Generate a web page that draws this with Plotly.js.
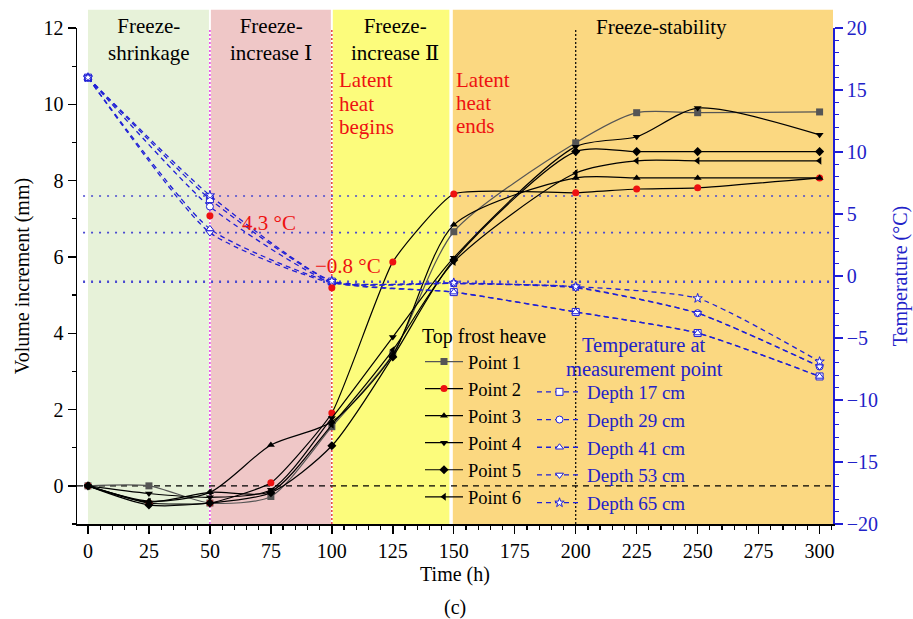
<!DOCTYPE html>
<html>
<head>
<meta charset="utf-8">
<script src="https://cdn.plot.ly/plotly-3.0.1.min.js"></script>
<style>html,body{margin:0;padding:0;background:#fff}#chart{width:913px;height:619px}</style>
</head>
<body>
<div id="chart"></div>
<script>
// ---- data ----
const hours = [0, 25, 50, 75, 100, 125, 150, 200, 225, 250, 300];
const point1 = [0, 0.0, -0.45, -0.28, 1.55, 3.45, 6.66, 8.99, 9.78, 9.78, 9.80];
const point2 = [0, -0.45, -0.45, 0.08, 1.91, 5.87, 7.65, 7.68, 7.78, 7.81, 8.07];
const point3 = [0, -0.40, -0.17, 1.07, 1.68, 3.43, 6.84, 8.07, 8.07, 8.07, 8.07];
const point4 = [0, -0.20, -0.30, -0.10, 1.78, 3.90, 5.98, 8.89, 9.15, 9.90, 9.20];
const point5 = [0, -0.50, -0.45, -0.18, 1.05, 3.38, 5.92, 8.76, 8.76, 8.76, 8.76];
const point6 = [0, -0.42, -0.17, -0.15, 1.60, 3.56, 5.87, 8.20, 8.52, 8.52, 8.52];

const tempHours = [0, 50, 100, 150, 200, 250, 300];
const depth17 = [16.0, 6.2, -0.45, -1.3, -2.9, -4.6, -8.1];
const depth29 = [16.0, 5.6, -0.50, -0.6, -0.9, -3.0, -7.3];
const depth41 = [16.0, 3.8, -0.50, -1.3, -2.9, -4.6, -8.1];
const depth53 = [16.0, 3.5, -0.55, -0.6, -0.95, -3.0, -7.3];
const depth65 = [16.0, 6.5, -0.40, -0.55, -0.85, -1.8, -6.9];

const markHours = [50, 100];
const markTemps = [4.86, -0.95];
const refTemps = [6.45, 3.5, -0.46];

const pointNames = ['Point 1', 'Point 2', 'Point 3', 'Point 4', 'Point 5', 'Point 6'];
const depthNames = ['Depth 17 cm', 'Depth 29 cm', 'Depth 41 cm', 'Depth 53 cm', 'Depth 65 cm'];

// ---- styles ----
const FONT = '"Liberation Serif", "Times New Roman", Times, serif';
const FONT_RN = '"Liberation Serif", "DejaVu Serif", serif';
const BLUE = '#1f1fd6';
const BLUE_TXT = '#2222c8';
const RED = '#ee1111';
const AFS = 21;

const heaveSeries = [point1, point2, point3, point4, point5, point6];
const heaveSymbols = ['square', 'circle', 'triangle-up', 'triangle-down', 'diamond', 'triangle-left'];
const heaveColors = ['#555555', RED, '#000000', '#000000', '#000000', '#000000'];
const heaveLine = ['#555555', '#000000', '#000000', '#000000', '#000000', '#000000'];
const heaveSmooth = [0.7, 0.45, 0.75, 0.75, 0.75, 0.75];

const traces = [];
heaveSeries.forEach((ys, i) => {
  traces.push({
    x: hours, y: ys, name: pointNames[i], type: 'scatter', mode: 'lines+markers',
    line: {shape: 'spline', smoothing: heaveSmooth[i], color: heaveLine[i], width: 1.2},
    marker: {symbol: heaveSymbols[i], size: 7, color: heaveColors[i]},
    legend: 'legend', cliponaxis: false
  });
});

const tempSeries = [depth17, depth29, depth41, depth53, depth65];
const tempSymbols = ['square', 'circle', 'triangle-up', 'triangle-down', 'star'];
tempSeries.forEach((ys, i) => {
  traces.push({
    x: tempHours, y: ys, name: depthNames[i], type: 'scatter', mode: 'lines+markers', yaxis: 'y2',
    line: {shape: 'spline', smoothing: 0.55, color: BLUE, width: 1.3, dash: '5px,4px'},
    marker: {symbol: tempSymbols[i], size: 7, color: 'white', line: {color: BLUE, width: 1}},
    legend: 'legend2', cliponaxis: false
  });
});

traces.push({
  x: markHours, y: markTemps, yaxis: 'y2', type: 'scatter', mode: 'markers', showlegend: false,
  marker: {symbol: 'circle', size: 7, color: RED}
});

const shapes = [
  {type: 'rect', xref: 'x', yref: 'paper', x0: 0, x1: 49.6, y0: 0, y1: 1.037, fillcolor: '#e7f2d9', line: {width: 0}, layer: 'below'},
  {type: 'rect', xref: 'x', yref: 'paper', x0: 50.4, x1: 99.6, y0: 0, y1: 1.037, fillcolor: '#efc7c7', line: {width: 0}, layer: 'below'},
  {type: 'rect', xref: 'x', yref: 'paper', x0: 100.4, x1: 148.2, y0: 0, y1: 1.037, fillcolor: '#fcfc7c', line: {width: 0}, layer: 'below'},
  {type: 'rect', xref: 'x', yref: 'paper', x0: 149.6, x1: 305.5, y0: 0, y1: 1.037, fillcolor: '#fbd881', line: {width: 0}, layer: 'below'},
  {type: 'line', xref: 'x', yref: 'paper', x0: 50, x1: 50, y0: 0, y1: 0.996, line: {color: '#e020e0', width: 1.3, dash: '2px,2px'}, layer: 'below'},
  {type: 'line', xref: 'x', yref: 'paper', x0: 100, x1: 100, y0: 0, y1: 0.996, line: {color: '#e02020', width: 1.3, dash: '2px,2px'}, layer: 'below'},
  {type: 'line', xref: 'x', yref: 'paper', x0: 200, x1: 200, y0: 0, y1: 0.996, line: {color: '#000000', width: 1.2, dash: '2px,2px'}, layer: 'below'},
  {type: 'line', xref: 'paper', yref: 'y', x0: 0, x1: 1, y0: 0, y1: 0, line: {color: '#000000', width: 1.4, dash: '6px,5px'}, layer: 'below'}
];
refTemps.forEach((t, i) => {
  shapes.push({type: 'line', xref: 'paper', yref: 'y2', x0: 0.008, x1: 1, y0: t, y1: t,
    line: {color: '#4a4ad0', width: i === 2 ? 2.4 : 1.6, dash: '2px,6px'}, layer: 'below'});
});

function ann(text, x, y, opts) {
  return Object.assign({text: text, x: x, y: y, xref: 'x', yref: 'paper', showarrow: false,
    xanchor: 'center', yanchor: 'middle', font: {family: FONT, size: AFS, color: '#000'}}, opts || {});
}
const py = px => (524 - px) / 496;
const redFont = {family: FONT, size: AFS, color: RED};
const rnFont = {family: FONT_RN, size: AFS, color: '#000'};

const annotations = [
  ann('Freeze-<br>shrinkage', 25, py(40)),
  ann('Freeze-<br>increase Ⅰ', 75, py(40), {font: rnFont}),
  ann('Freeze-<br>increase Ⅱ', 125.8, py(40), {font: rnFont}),
  ann('Freeze-stability', 235, py(27)),
  ann('Latent', 102.3, py(80), {xanchor: 'left', font: redFont}),
  ann('heat', 102.3, py(104), {xanchor: 'left', font: redFont}),
  ann('begins', 102.3, py(127), {xanchor: 'left', font: redFont}),
  ann('Latent', 150.2, py(80), {xanchor: 'left', font: redFont}),
  ann('heat', 150.2, py(103), {xanchor: 'left', font: redFont}),
  ann('ends', 150.2, py(126), {xanchor: 'left', font: redFont}),
  ann('4.3 °C', 62.3, py(223), {xanchor: 'left', font: redFont}),
  ann('−0.8 °C', 92.2, py(266), {xanchor: 'left', font: redFont}),
  ann('Temperature at', 228, py(345), {font: {family: FONT, size: 20.5, color: BLUE_TXT}}),
  ann('measurement point', 228, py(369), {font: {family: FONT, size: 20.5, color: BLUE_TXT}}),
  {text: '(c)', xref: 'paper', yref: 'paper', x: (455 - 77) / 756, y: py(607), showarrow: false,
    xanchor: 'center', yanchor: 'middle', font: {family: FONT, size: 20, color: '#000'}}
];

const layout = {
  width: 913, height: 619,
  margin: {l: 77, r: 80, t: 28, b: 95, pad: 0},
  paper_bgcolor: 'white', plot_bgcolor: 'white',
  font: {family: FONT, size: 20, color: '#000'},
  showlegend: true,
  xaxis: {
    range: [-4.5, 305.5], tick0: 0, dtick: 25, ticks: 'outside', ticklen: 8, tickwidth: 1.4, tickcolor: '#000',
    showline: true, linecolor: '#000', linewidth: 1.5, showgrid: false, zeroline: false,
    minor: {dtick: 5, ticks: 'outside', ticklen: 4, tickwidth: 1.2, tickcolor: '#000', showgrid: false},
    tickfont: {family: FONT, size: 20, color: '#000'},
    title: {text: 'Time (h)', font: {family: FONT, size: 20, color: '#000'}, standoff: 6}
  },
  yaxis: {
    range: [-1, 12], tick0: 0, dtick: 2, ticks: 'outside', ticklen: 8, tickwidth: 1.4, tickcolor: '#000',
    showline: true, linecolor: '#000', linewidth: 1.5, showgrid: false, zeroline: false,
    minor: {dtick: 1, ticks: 'outside', ticklen: 4, tickwidth: 1.2, tickcolor: '#000', showgrid: false},
    tickfont: {family: FONT, size: 20, color: '#000'},
    title: {text: 'Volume increment (mm)', font: {family: FONT, size: 20, color: '#000'}, standoff: 8}
  },
  yaxis2: {
    overlaying: 'y', side: 'right', range: [-20, 20], tick0: 0, dtick: 5,
    ticks: 'outside', ticklen: 8, tickwidth: 1.4, tickcolor: BLUE,
    showline: true, linecolor: BLUE, linewidth: 1.8, showgrid: false, zeroline: false,
    minor: {dtick: 1, ticks: 'outside', ticklen: 4, tickwidth: 1.2, tickcolor: BLUE, showgrid: false},
    tickfont: {family: FONT, size: 20, color: BLUE_TXT},
    title: {text: 'Temperature (°C)', font: {family: FONT, size: 20, color: BLUE_TXT}, standoff: 16}
  },
  legend: {
    x: (420 - 77) / 756, xanchor: 'left', y: py(317), yanchor: 'top',
    bgcolor: 'rgba(0,0,0,0)', borderwidth: 0, itemwidth: 38,
    font: {family: FONT, size: 18.5, color: '#000'},
    title: {text: 'Top frost heave', font: {family: FONT, size: 20, color: '#000'}}
  },
  legend2: {
    x: (532 - 77) / 756, xanchor: 'left', y: py(373), yanchor: 'top',
    bgcolor: 'rgba(0,0,0,0)', borderwidth: 0, itemwidth: 45,
    font: {family: FONT, size: 19, color: BLUE_TXT}
  },
  shapes: shapes,
  annotations: annotations
};

Plotly.newPlot('chart', traces, layout, {displayModeBar: false, staticPlot: true});
</script>
</body>
</html>
